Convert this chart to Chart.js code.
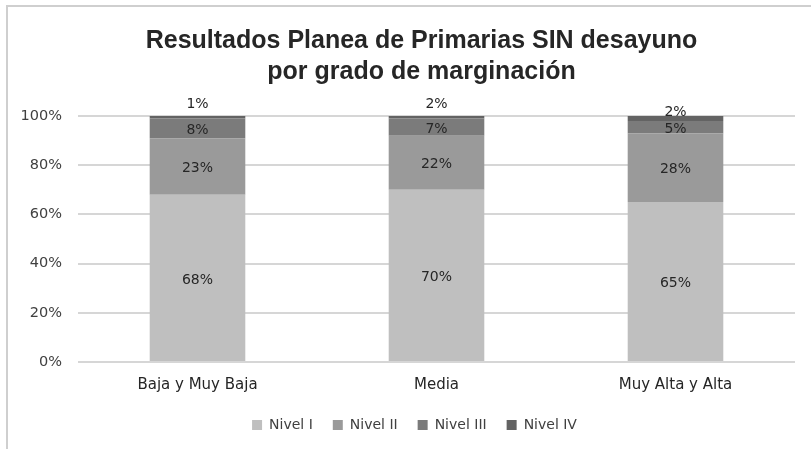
<!DOCTYPE html>
<html>
<head>
<meta charset="utf-8">
<script src="https://cdn.jsdelivr.net/npm/chart.js@4"></script>
<style>
  html, body { margin: 0; padding: 0; background: #fff; }
  #wrap { position: relative; width: 811px; height: 449px; }
  #frame { position: absolute; left: 6px; top: 5px; right: 0; bottom: 0;
           border-top: 2px solid #cfcfcf; border-left: 2px solid #cfcfcf; }
  canvas { position: absolute; left: 0; top: 0; }
</style>
</head>
<body>
<div id="wrap">
  <div id="frame"></div>
  <canvas id="chart" width="811" height="449"></canvas>
</div>
<script>
// Categories and series (percent of schools per level)
const categories = ['Baja y Muy Baja', 'Media', 'Muy Alta y Alta'];
const nivel1 = [68, 70, 65];
const nivel2 = [23, 22, 28];
const nivel3 = [8, 7, 5];
const nivel4 = [1, 2, 2];
const yTicks = [0, 20, 40, 60, 80, 100];

const seriesNames = ['Nivel I', 'Nivel II', 'Nivel III', 'Nivel IV'];
const seriesData = [nivel1, nivel2, nivel3, nivel4];
const seriesColors = ['#bfbfbf', '#9a9a9a', '#7b7b7b', '#636363'];

const FONT = 'DejaVu Sans';

// Data labels: centered in segment, Nivel IV sits above the bar
const topLabelOffset = [12, 12, 4];
const segmentLabels = {
    id: 'segmentLabels',
    afterDatasetsDraw(chart) {
        const ctx = chart.ctx;
        const yScale = chart.scales.y;
        ctx.save();
        ctx.font = '14px "' + FONT + '"';
        ctx.fillStyle = '#262626';
        ctx.textAlign = 'center';
        ctx.textBaseline = 'middle';
        chart.data.datasets.forEach((ds, di) => {
            const meta = chart.getDatasetMeta(di);
            meta.data.forEach((bar, i) => {
                let y;
                if (di === 3) {
                    y = yScale.getPixelForValue(100) - topLabelOffset[i];
                } else {
                    y = (bar.y + bar.base) / 2 + 2;
                }
                ctx.fillText(ds.data[i] + '%', bar.x, y);
            });
        });
        ctx.restore();
    }
};

// title and legend sit a bit right of the canvas centre in the original
const shiftBoxes = {
    id: 'shiftBoxes',
    afterLayout(chart) {
        chart.titleBlock.left += 24;
        chart.titleBlock.right += 24;
        chart.legend.left += 17;
        chart.legend.right += 17;
    }
};

new Chart(document.getElementById('chart').getContext('2d'), {
    type: 'bar',
    data: {
        labels: categories,
        datasets: seriesNames.map((name, k) => ({
            label: name,
            data: seriesData[k],
            backgroundColor: seriesColors[k],
            borderWidth: 0,
            categoryPercentage: 1,
            barPercentage: 0.4
        }))
    },
    options: {
        responsive: false,
        animation: false,
        layout: { padding: { top: 0, right: 16, bottom: 7, left: 0 } },
        plugins: {
            title: {
                display: true,
                text: ['Resultados Planea de Primarias SIN desayuno', 'por grado de marginación'],
                font: { family: 'Liberation Sans', size: 25, weight: 'bold', lineHeight: 1.24 },
                color: '#262626',
                padding: { top: 26, bottom: 28 }
            },
            legend: {
                position: 'bottom',
                labels: {
                    font: { family: FONT, size: 14 },
                    color: '#404040',
                    boxWidth: 10,
                    boxHeight: 10,
                    padding: 20
                }
            },
            tooltip: { enabled: false }
        },
        scales: {
            x: {
                stacked: true,
                afterFit(scale) { scale.height = 36; },
                grid: { display: false, drawTicks: false },
                border: { display: false },
                ticks: { font: { family: FONT, size: 15 }, color: '#262626', padding: 14 }
            },
            y: {
                stacked: true,
                min: 0,
                max: 100,
                afterBuildTicks(scale) {
                    scale.ticks = yTicks.map(v => ({ value: v }));
                },
                afterFit(scale) { scale.width = 78; },
                grid: { color: '#d6d6d6', lineWidth: 2, drawTicks: false },
                border: { display: false },
                ticks: {
                    font: { family: FONT, size: 14.5 },
                    color: '#404040',
                    padding: 16,
                    callback: v => v + '%'
                }
            }
        }
    },
    plugins: [segmentLabels, shiftBoxes]
});
</script>
</body>
</html>
